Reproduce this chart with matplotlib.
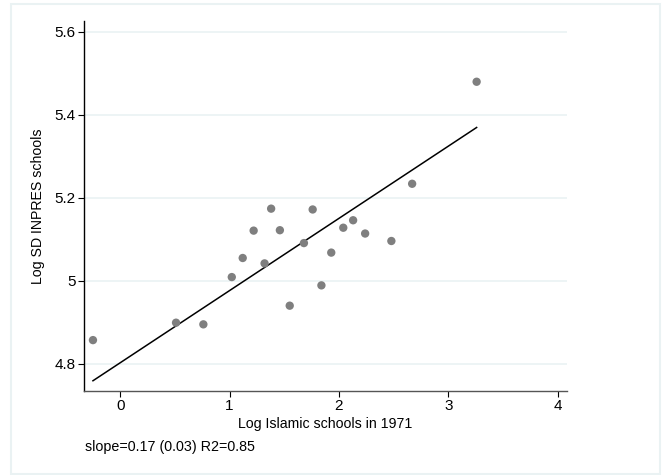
import numpy as np
import matplotlib
matplotlib.use('Agg')
import matplotlib.pyplot as plt
from matplotlib.patches import Rectangle

plt.rcParams['font.family'] = ['Liberation Sans', 'DejaVu Sans']

### Data ###
log_islamic = [-0.25, 0.51, 0.76, 1.02, 1.12, 1.32, 1.22, 1.38, 1.46, 1.55,
               1.68, 1.76, 1.84, 1.93, 2.04, 2.13, 2.24, 2.48, 2.67, 3.26]
log_sd = [4.857, 4.899, 4.895, 5.009, 5.055, 5.042, 5.121, 5.174, 5.122, 4.940,
          5.091, 5.172, 4.989, 5.068, 5.128, 5.146, 5.114, 5.096, 5.234, 5.480]
# fitted line as shown (weighted fit in the original)
fit_slope = 0.174
fit_intercept = 4.8025
x_ticks = [0, 1, 2, 3, 4]
y_ticks = [4.8, 5.0, 5.2, 5.4, 5.6]
y_tick_labels = ['4.8', '5', '5.2', '5.4', '5.6']
note = 'slope=0.17 (0.03) R2=0.85'

grid_col = '#eaf2f3'

fig = plt.figure(figsize=(6.62, 4.75), dpi=100)
fig.patches.append(Rectangle((11 / 662, 1 - 474 / 475), 649 / 662, 470 / 475,
                             transform=fig.transFigure, fill=False,
                             edgecolor=grid_col, linewidth=1.5))

ax = fig.add_axes([84 / 662, 1 - 390.7 / 475, (566.7 - 84) / 662, (390.7 - 21) / 475])

x = np.array(log_islamic)
y = np.array(log_sd)
p = np.poly1d([fit_slope, fit_intercept])
xs = np.array([x.min(), x.max()])

for t in y_ticks:
    ax.axhline(t, color=grid_col, linewidth=1.2, zorder=0)
ax.scatter(x, y, s=36, color='#7f7f7f', edgecolors='none', zorder=3)
ax.plot(xs, p(xs), color='black', linewidth=1.1, zorder=2)

ax.set_xlim(-0.332, 4.084)
ax.set_ylim(4.735, 5.6265)
ax.set_xticks(x_ticks)
ax.set_yticks(y_ticks)
ax.set_yticklabels(y_tick_labels)
ax.tick_params(labelsize=11, length=4.3, width=0.8, colors='black', pad=1.5)

for s in ['top', 'right']:
    ax.spines[s].set_visible(False)
ax.spines['left'].set_color('black')
ax.spines['bottom'].set_color('#555555')
ax.spines['left'].set_linewidth(1.0)
ax.spines['bottom'].set_linewidth(1.0)

ax.set_xlabel('Log Islamic schools in 1971', fontsize=10.2, labelpad=3)
ax.set_ylabel('Log SD INPRES schools', fontsize=10.2, labelpad=7)

fig.text(85 / 662, 1 - 447 / 475, note, fontsize=10.3, ha='left', va='center')

fig.savefig('out.png', dpi=100)
